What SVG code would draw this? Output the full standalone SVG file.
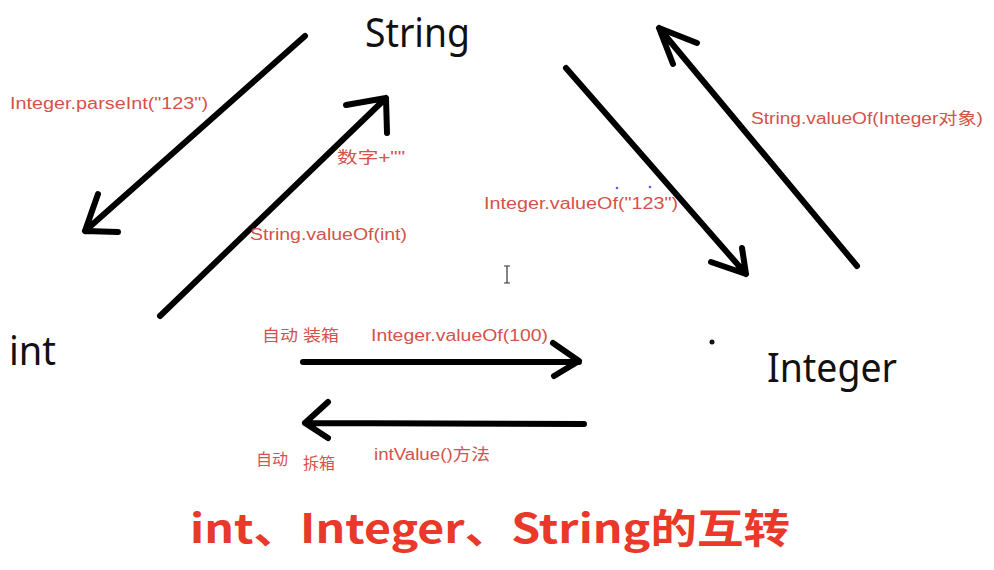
<svg xmlns="http://www.w3.org/2000/svg" width="994" height="570" viewBox="0 0 994 570">
<style>
.node{font-family:"Noto Sans","Liberation Sans",sans-serif;fill:#111;}
.lbl{font-family:"Liberation Sans","Noto Sans CJK SC",sans-serif;font-size:16px;fill:#d4524c;}
.ln{stroke:#000;stroke-width:6;fill:none;stroke-linecap:round;stroke-linejoin:round;}
.title{font-family:"Noto Sans CJK SC","Liberation Sans",sans-serif;font-size:40px;font-weight:bold;fill:#e8392a;}
</style>
<rect width="994" height="570" fill="#fff"/>
<g id="string"><text class="node" x="365" y="47" font-size="40" textLength="105" lengthAdjust="spacingAndGlyphs">String</text></g>
<g id="int"><text class="node" x="9" y="365" font-size="40" textLength="47" lengthAdjust="spacingAndGlyphs">int</text></g>
<g id="integer"><text class="node" x="767" y="382" font-size="40" textLength="130" lengthAdjust="spacingAndGlyphs">Integer</text></g>
<g id="connectors">
<path class="ln" d="M305,36 L85,231 M98,194 L85,231 L118,232"/>
<path class="ln" d="M160,316 L386,98 M346,105 L386,98 L387,133"/>
<path class="ln" d="M566,68 L746,274 M742,248 L746,274 L711,262"/>
<path class="ln" d="M857,266 L659,28 M697,43 L659,28 L673,64"/>
<path class="ln" d="M303,362 L579,362 M553,343 L579,361 L554,376"/>
<path class="ln" d="M584,424 L305,423 M328,402 L305,423 L328,438"/>
</g>
<g id="labels">
<text class="lbl" x="10" y="109" textLength="198" lengthAdjust="spacingAndGlyphs">Integer.parseInt("123")</text>
<text class="lbl" x="337" y="163" textLength="68" lengthAdjust="spacingAndGlyphs">数字+""</text>
<text class="lbl" x="250" y="240" textLength="157" lengthAdjust="spacingAndGlyphs">String.valueOf(int)</text>
<text class="lbl" x="484" y="209" textLength="194" lengthAdjust="spacingAndGlyphs">Integer.valueOf("123")</text>
<text class="lbl" x="751" y="124" textLength="232" lengthAdjust="spacingAndGlyphs">String.valueOf(Integer对象)</text>
<text class="lbl" x="262" y="341" textLength="77" lengthAdjust="spacingAndGlyphs">自动 装箱</text>
<text class="lbl" x="371" y="341" textLength="177" lengthAdjust="spacingAndGlyphs">Integer.valueOf(100)</text>
<text class="lbl" x="256" y="465">自动</text>
<text class="lbl" x="303" y="469">拆箱</text>
<text class="lbl" x="374" y="460" textLength="116" lengthAdjust="spacingAndGlyphs">intValue()方法</text>
</g>
<circle cx="617" cy="188" r="1.3" fill="#5a5aff"/>
<circle cx="650" cy="187" r="1.3" fill="#5a5aff"/>
<circle cx="712" cy="342" r="2.5" fill="#111"/>
<path d="M504,266 H510 M507,266 V283 M504,283 H510" stroke="#333" stroke-width="1.2" fill="none"/>
<text class="title" x="190" y="543" textLength="600" lengthAdjust="spacingAndGlyphs">int、Integer、String的互转</text>
</svg>
